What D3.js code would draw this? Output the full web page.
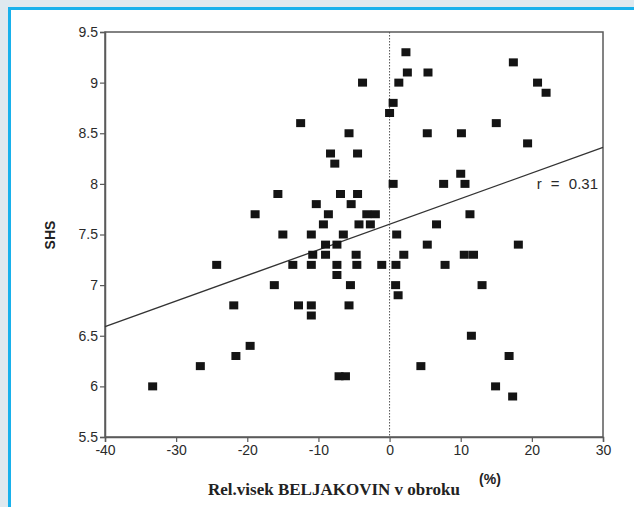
<!DOCTYPE html>
<html>
<head>
<meta charset="utf-8">
<script src="https://cdn.jsdelivr.net/npm/d3@7"></script>
<style>
  html, body { margin: 0; padding: 0; background: #dfe9ef; }
  #chart { position: relative; width: 634px; height: 507px; overflow: hidden; }
</style>
</head>
<body>
<div id="chart"></div>
<script>
// Relative BELJAKOVIN intake (%) vs SHS
const xValues = [2.3, 2.5, 5.4, -3.8, 1.3, 0.5, 0.0, -12.5, -5.7, 5.3,
  -8.3, -4.5, -7.7, 0.5, 7.6, -15.7, -6.9, -4.5, -10.3, -5.4,
  -8.6, -3.2, -2.0, -9.3, -4.3, -2.7, 6.6, 17.4, 20.8, 22.0,
  15.0, 10.1, 19.4, 10.0, 10.6, 11.3, -24.3, -21.9, -19.6, -21.6,
  -26.6, -33.3, -15.0, -11.0, -6.5, 1.0, -9.0, -7.4, 5.3, -10.8,
  -9.0, -4.7, 2.0, -13.6, -11.0, -7.4, -4.6, -1.1, 0.9, -7.4,
  -16.2, -5.5, 0.85, 1.2, -12.8, -11.0, -5.7, -11.0, 4.4, -7.1,
  -6.2, 18.1, 10.5, 11.8, 7.8, 13.0, 11.5, 16.8, 14.9, 17.3, -18.9];
const yValues = [9.3, 9.1, 9.1, 9.0, 9.0, 8.8, 8.7, 8.6, 8.5, 8.5,
  8.3, 8.3, 8.2, 8.0, 8.0, 7.9, 7.9, 7.9, 7.8, 7.8,
  7.7, 7.7, 7.7, 7.6, 7.6, 7.6, 7.6, 9.2, 9.0, 8.9,
  8.6, 8.5, 8.4, 8.1, 8.0, 7.7, 7.2, 6.8, 6.4, 6.3,
  6.2, 6.0, 7.5, 7.5, 7.5, 7.5, 7.4, 7.4, 7.4, 7.3,
  7.3, 7.3, 7.3, 7.2, 7.2, 7.2, 7.2, 7.2, 7.2, 7.1,
  7.0, 7.0, 7.0, 6.9, 6.8, 6.8, 6.8, 6.7, 6.2, 6.1,
  6.1, 7.4, 7.3, 7.3, 7.2, 7.0, 6.5, 6.3, 6.0, 5.9, 7.7];

const xTicks = [-40, -30, -20, -10, 0, 10, 20, 30];
const yTicks = [5.5, 6, 6.5, 7, 7.5, 8, 8.5, 9, 9.5];
// regression line end points
const fitX = [-40, 30];
const fitY = [6.59, 8.36];
const rLabel = "r = 0.31";

const W = 634, H = 507;
const svg = d3.select("#chart").append("svg")
  .attr("width", W).attr("height", H);

// frame: light blue page, cyan border, white panel
svg.append("rect").attr("width", W).attr("height", H).attr("fill", "#dfe9ef");
svg.append("rect").attr("x", 8).attr("y", 7).attr("width", W).attr("height", H)
  .attr("fill", "#18b1ec");
svg.append("rect").attr("x", 11).attr("y", 10).attr("width", W).attr("height", H)
  .attr("fill", "#ffffff");

const x = d3.scaleLinear().domain([-40, 30]).range([105, 603]);
const y = d3.scaleLinear().domain([5.5, 9.5]).range([437, 32]);

const axisColor = "#5a5a5a";
const font = "'Liberation Sans', Arial, sans-serif";

// box
svg.append("rect")
  .attr("x", x(-40)).attr("y", y(9.5))
  .attr("width", x(30) - x(-40)).attr("height", y(5.5) - y(9.5))
  .attr("fill", "none").attr("stroke", axisColor).attr("stroke-width", 1.5);

// dotted zero line
svg.append("line")
  .attr("x1", x(0)).attr("x2", x(0)).attr("y1", y(9.5)).attr("y2", y(5.5))
  .attr("stroke", "#555").attr("stroke-width", 1).attr("stroke-dasharray", "1.5,1.5");

const xAxis = svg.append("g")
  .attr("transform", `translate(0,${y(5.5)})`)
  .call(d3.axisBottom(x).tickValues(xTicks).tickSize(5).tickPadding(3)
    .tickFormat((d) => String(d)));
const yAxis = svg.append("g")
  .attr("transform", `translate(${x(-40)},0)`)
  .call(d3.axisLeft(y).tickValues(yTicks).tickSize(5).tickPadding(2)
    .tickFormat((d) => String(d)));

[xAxis, yAxis].forEach((g) => {
  g.select(".domain").attr("stroke", axisColor).attr("stroke-width", 1.5);
  g.selectAll(".tick line").attr("stroke", axisColor).attr("stroke-width", 1.2);
  g.selectAll(".tick text")
    .attr("fill", "#2a2a2a")
    .style("font-family", font)
    .style("font-size", "14px");
});

// regression line
svg.append("line")
  .attr("x1", x(fitX[0])).attr("y1", y(fitY[0]))
  .attr("x2", x(fitX[1])).attr("y2", y(fitY[1]))
  .attr("stroke", "#333").attr("stroke-width", 1.3);

// points
const pw = 9, ph = 8;
svg.append("g").selectAll("rect")
  .data(d3.zip(xValues, yValues))
  .enter()
  .append("rect")
  .attr("x", (d) => x(d[0]) - pw / 2)
  .attr("y", (d) => y(d[1]) - ph / 2)
  .attr("width", pw).attr("height", ph)
  .attr("fill", "#141414");

svg.append("text")
  .attr("x", 598).attr("y", 189)
  .attr("text-anchor", "end")
  .attr("fill", "#2a2a2a")
  .style("font-family", font)
  .style("font-size", "15px")
  .style("word-spacing", "5px")
  .text(rLabel);

// axis titles
svg.append("text")
  .attr("transform", `translate(55,235) rotate(-90)`)
  .attr("text-anchor", "middle")
  .attr("fill", "#222")
  .style("font-family", font)
  .style("font-size", "14px")
  .style("font-weight", "bold")
  .text("SHS");

svg.append("text")
  .attr("x", 334).attr("y", 495)
  .attr("text-anchor", "middle")
  .attr("fill", "#222")
  .style("font-family", "'Liberation Serif', 'Times New Roman', serif")
  .style("font-size", "17px")
  .style("font-weight", "bold")
  .text("Rel.visek BELJAKOVIN v obroku");

svg.append("text")
  .attr("x", 490).attr("y", 484)
  .attr("text-anchor", "middle")
  .attr("fill", "#222")
  .style("font-family", font)
  .style("font-size", "14px")
  .style("font-weight", "bold")
  .text("(%)");
</script>
</body>
</html>
